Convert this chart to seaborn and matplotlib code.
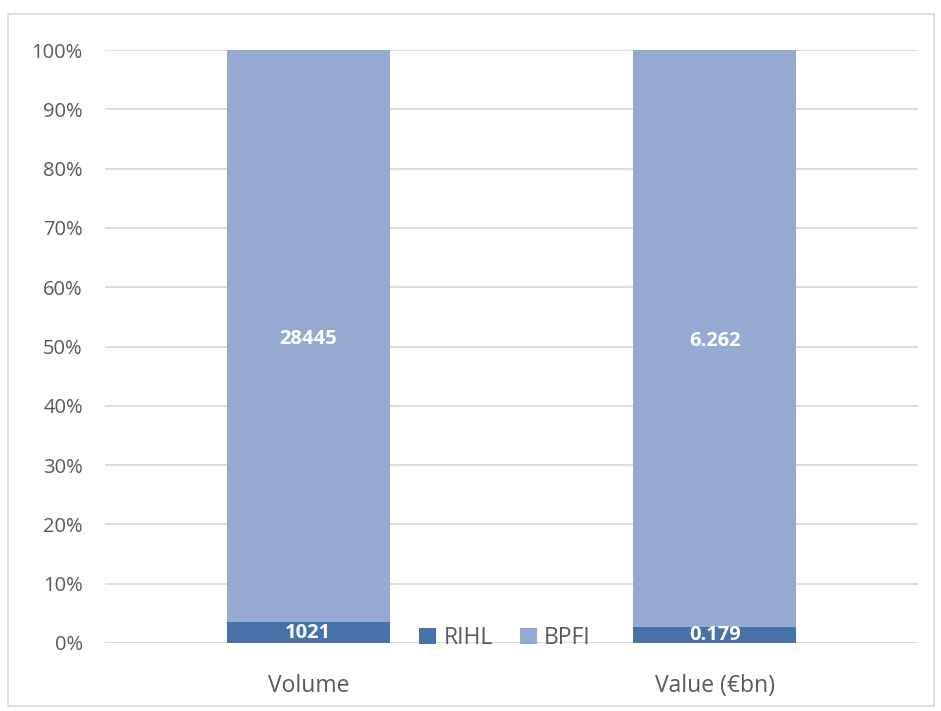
import numpy as np
import pandas as pd
import matplotlib.pyplot as plt
import seaborn as sns
from matplotlib.patches import Rectangle
from matplotlib.ticker import PercentFormatter

# values
categories = ["Volume", "Value (€bn)"]
rihl = [1021, 0.179]
bpfi = [28445, 6.262]
rihl_labels = ["1021", "0.179"]
bpfi_labels = ["28445", "6.262"]

df = pd.DataFrame({"cat": categories, "RIHL": rihl, "BPFI": bpfi})
df["total"] = df["RIHL"] + df["BPFI"]
df["rihl_pct"] = df["RIHL"] / df["total"] * 100
df["top_pct"] = 100.0  # stacked top = RIHL + BPFI share

sns.set_theme(style="white")
plt.rcParams['font.family'] = ['Open Sans', 'DejaVu Sans']

c_rihl = "#4672A8"
c_bpfi = "#95A9D1"
grey = "#595959"

fig = plt.figure(figsize=(9.41, 7.11), dpi=100)
ax = fig.add_axes([105/941, 68/711, 813/941, 593/711])

# BPFI drawn full height, RIHL drawn over the bottom
sns.barplot(data=df, x="cat", y="top_pct", color=c_bpfi, width=0.4,
            saturation=1, ax=ax, zorder=2, label="BPFI", linewidth=0)
sns.barplot(data=df, x="cat", y="rihl_pct", color=c_rihl, width=0.4,
            saturation=1, ax=ax, zorder=3, label="RIHL", linewidth=0)

for i, row in df.iterrows():
    ax.text(i, row["rihl_pct"] / 2, rihl_labels[i], ha="center", va="center",
            color="white", fontsize=14.5, fontweight="bold", zorder=5)
    ax.text(i, (row["rihl_pct"] + 100) / 2 - 0.5, bpfi_labels[i], ha="center",
            va="center", color="white", fontsize=14.5, fontweight="bold", zorder=5)

ax.set_ylim(0, 100)
ax.set_xlim(-0.5, 1.5)
ax.set_yticks(np.arange(0, 101, 10))
ax.yaxis.set_major_formatter(PercentFormatter(decimals=0))
ax.grid(axis="y", color="#D9D9D9", linewidth=1.3, zorder=0)
ax.set_axisbelow(True)
for s in ax.spines.values():
    s.set_visible(False)
ax.set_xlabel("")
ax.set_ylabel("")
ax.tick_params(axis="y", length=0, labelsize=14.5, labelcolor=grey, pad=16)
ax.tick_params(axis="x", length=0, labelsize=16.5, labelcolor=grey, pad=22)
ax.axhline(0, color="#D9D9D9", linewidth=1.3, zorder=1)

handles, labels = ax.get_legend_handles_labels()
order = [labels.index("RIHL"), labels.index("BPFI")]
fig.legend([handles[k] for k in order], [labels[k] for k in order],
           loc="center", bbox_to_anchor=(505/941, 1 - 638/711), ncol=2,
           frameon=False, fontsize=16.5, labelcolor=grey, handlelength=0.75,
           handleheight=0.75, handletextpad=0.3, columnspacing=1.2)
if ax.get_legend() is not None:
    ax.get_legend().remove()

fig.patches.append(Rectangle((8/941, 5/711), 926/941, 692/711,
                             transform=fig.transFigure, fill=False,
                             edgecolor="#D9D9D9", linewidth=1.2))

fig.savefig("out.png", dpi=100)
